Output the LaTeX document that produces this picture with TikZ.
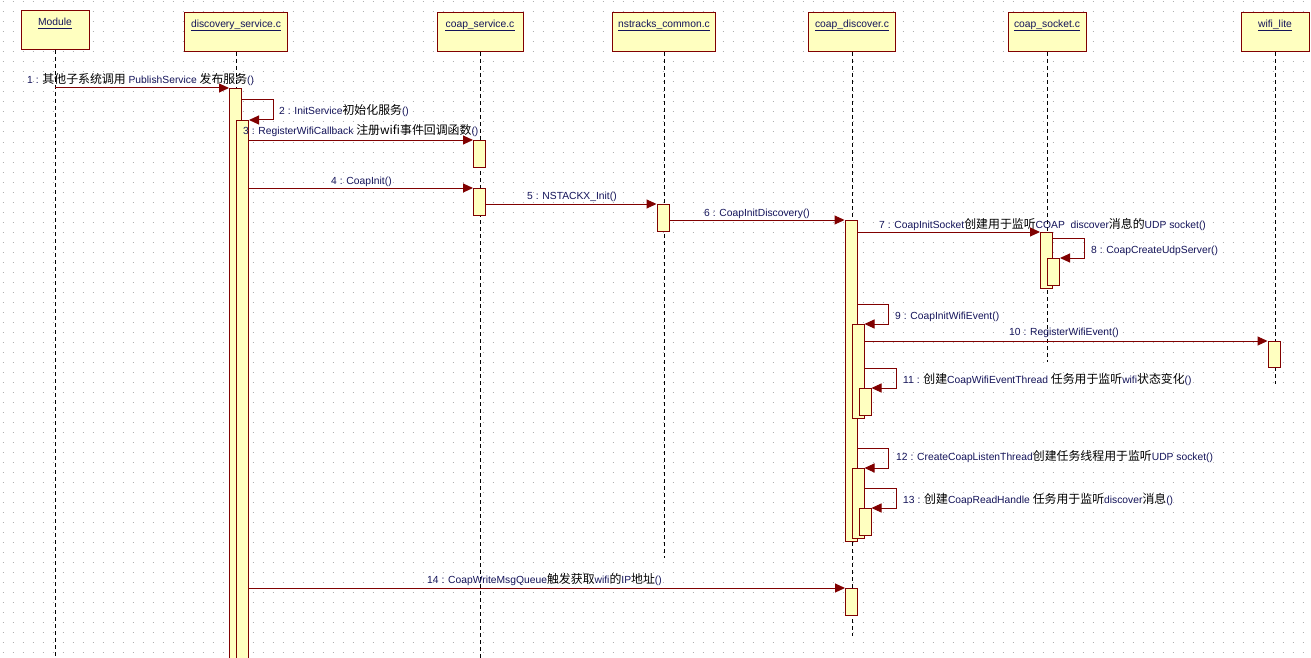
\documentclass[tikz,border=0pt]{standalone}
\usepackage{fontspec}
\setmainfont{Liberation Sans}
\newfontfamily\cjkfont{Noto Sans CJK SC}
\usetikzlibrary{arrows.meta,calc}
\definecolor{dred}{RGB}{128,0,0}
\definecolor{lyel}{RGB}{255,255,192}
\definecolor{txtblue}{RGB}{20,20,90}
\definecolor{griddot}{RGB}{175,175,175}
\newcommand\zhtxt[1]{{\color{black}\cjkfont\fontsize{11.9}{13}\selectfont #1}}
\begin{document}
\begin{tikzpicture}[x=1pt,y=-1pt,
  hdr/.style={draw=dred,fill=lyel,line width=1pt,minimum width=#1,minimum height=39pt,inner sep=0pt,anchor=north},
  hdrtext/.style={text=txtblue,inner sep=0pt,anchor=base,font=\fontsize{10.3}{12}\selectfont},
  uline/.style={draw=txtblue,line width=0.8pt},
  life/.style={draw=black,line width=1pt,dash pattern=on 4pt off 3pt},
  act/.style={draw=dred,fill=lyel,line width=1pt,minimum width=12pt,inner sep=0pt,anchor=north},
  msg/.style={draw=dred,line width=1pt,-{Triangle[length=10pt,width=9pt]}},
  lab/.style={text=txtblue,inner sep=0pt,anchor=base west,font=\fontsize{10.3}{12}\selectfont}]
\useasboundingbox (0,0) rectangle (1311,658);
\fill[white] (0,0) rectangle (1311,658);
% dotted grid
\foreach \gy in {2,12,...,652}
  \draw[griddot,line width=1pt,dash pattern=on 1pt off 9pt] (2.5,\gy) -- (1311,\gy);

% headers
\node[hdr=68pt] (h1) at (55,10) {};
\node[hdr=103pt] (h2) at (236,12) {};
\node[hdr=86pt] (h3) at (480,12) {};
\node[hdr=103pt] (h4) at (664,12) {};
\node[hdr=87pt] (h5) at (852,12) {};
\node[hdr=78pt] (h6) at (1047,12) {};
\node[hdr=68pt] (h7) at (1275,12) {};
\node[hdrtext] (t1) at ($(h1.north)+(0,16)$) {Module};
\node[hdrtext] (t2) at ($(h2.north)+(0,16)$) {discovery\_service.c};
\node[hdrtext] (t3) at ($(h3.north)+(0,16)$) {coap\_service.c};
\node[hdrtext] (t4) at ($(h4.north)+(0,16)$) {nstracks\_common.c};
\node[hdrtext] (t5) at ($(h5.north)+(0,16)$) {coap\_discover.c};
\node[hdrtext] (t6) at ($(h6.north)+(0,16)$) {coap\_socket.c};
\node[hdrtext] (t7) at ($(h7.north)+(0,16)$) {wifi\_lite};
\foreach \t in {t1,t2,t3,t4,t5,t6,t7}
  \draw[uline] ([yshift=-2pt]\t.base west) -- ([yshift=-2pt]\t.base east);

% lifelines
\draw[life] (h1.south) -- (h1.south |- 0,658);
\draw[life] (h2.south) -- (h2.south |- 0,658);
\draw[life] (h3.south) -- (h3.south |- 0,658);
\draw[life] (h4.south) -- (h4.south |- 0,558);
\draw[life] (h5.south) -- (h5.south |- 0,636);
\draw[life] (h6.south) -- (h6.south |- 0,362);
\draw[life] (h7.south) -- (h7.south |- 0,384);

% activations
\node[act,minimum height=572pt] (a1) at (235.5,88) {};
\node[act,minimum height=540pt] (a2) at (242.5,120) {};
\node[act,minimum height=27pt] (a3) at (479.5,140) {};
\node[act,minimum height=27pt] (a4) at (479.5,188) {};
\node[act,minimum height=27pt] (a5) at (663,204) {};
\node[act,minimum height=321pt] (a6) at (851,220) {};
\node[act,minimum height=56pt] (a7) at (1046.5,232) {};
\node[act,minimum height=27pt] (a8) at (1053.5,258) {};
\node[act,minimum height=94pt] (a9) at (858,324) {};
\node[act,minimum height=26pt] (a10) at (1274,341) {};
\node[act,minimum height=27pt] (a11) at (865,388) {};
\node[act,minimum height=70pt] (a12) at (858,468) {};
\node[act,minimum height=27pt] (a13) at (865,508) {};
\node[act,minimum height=27pt] (a14) at (851.5,588) {};

% messages
\draw[msg] (h1.south |- a1.north) -- (a1.north west);
\draw[msg] (a1.east |- 0,100) -- ++(31,0) |- (a2.north east);
\draw[msg] (a2.east |- a3.north) -- (a3.north west);
\draw[msg] (a2.east |- a4.north) -- (a4.north west);
\draw[msg] (a4.east |- a5.north) -- (a5.north west);
\draw[msg] (a5.east |- a6.north) -- (a6.north west);
\draw[msg] (a6.east |- a7.north) -- (a7.north west);
\draw[msg] (a7.east |- 0,238) -- ++(31,0) |- (a8.north east);
\draw[msg] (a6.east |- 0,304) -- ++(31,0) |- (a9.north east);
\draw[msg] (a9.east |- a10.north) -- (a10.north west);
\draw[msg] (a9.east |- 0,368) -- ++(32,0) |- (a11.north east);
\draw[msg] (a6.east |- 0,448) -- ++(31,0) |- (a12.north east);
\draw[msg] (a12.east |- 0,488) -- ++(32,0) |- (a13.north east);
\draw[msg] (a2.east |- a14.north) -- (a14.north west);

% labels
\node[lab] (l1) at (27,84) {1 : \zhtxt{其他子系统调用} PublishService \zhtxt{发布服务}()};
\node[lab] (l2) at (279,114) {2 : InitService\zhtxt{初始化服务}()};
\node[lab] (l3) at (243,135) {3 : RegisterWifiCallback \zhtxt{注册wifi事件回调函数}()};
\node[lab] (l4) at (331,184) {4 : CoapInit()};
\node[lab] (l5) at (527,199) {5 : NSTACKX\_Init()};
\node[lab] (l6) at (704,216) {6 : CoapInitDiscovery()};
\node[lab] (l7) at (879,228) {7 : CoapInitSocket\zhtxt{创建用于监听}COAP~~discover\zhtxt{消息的}UDP socket()};
\node[lab] (l8) at (1091,253) {8 : CoapCreateUdpServer()};
\node[lab] (l9) at (895,319) {9 : CoapInitWifiEvent()};
\node[lab] (l10) at (1009,335) {10 : RegisterWifiEvent()};
\node[lab] (l11) at (903,383) {11 : \zhtxt{创建}CoapWifiEventThread \zhtxt{任务用于监听}wifi\zhtxt{状态变化}()};
\node[lab] (l12) at (896,460) {12 : CreateCoapListenThread\zhtxt{创建任务线程用于监听}UDP socket()};
\node[lab] (l13) at (903,503) {13 : \zhtxt{创建}CoapReadHandle \zhtxt{任务用于监听}discover\zhtxt{消息}()};
\node[lab] (l14) at (427,583) {14 : CoapWriteMsgQueue\zhtxt{触发获取}wifi\zhtxt{的}IP\zhtxt{地址}()};
\end{tikzpicture}
\end{document}
